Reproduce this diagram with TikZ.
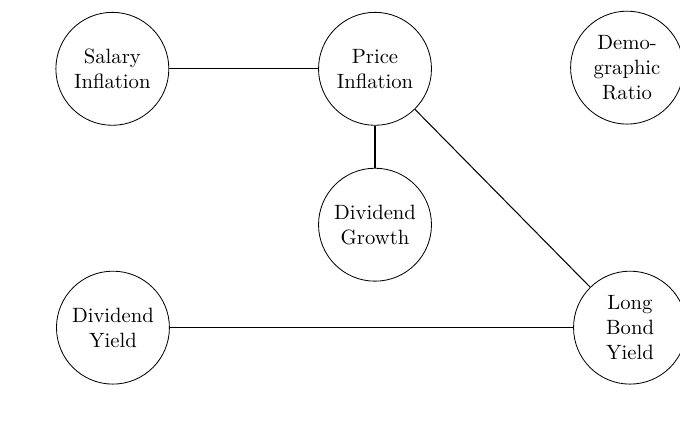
\documentclass[tikz,border=0pt]{standalone}
\usepackage{tikz}
\usetikzlibrary{positioning}

\begin{document}
\begin{tikzpicture}[
    factor/.style={draw, circle, minimum size=1.92cm, inner sep=1pt, align=center, font=\normalsize},
    link/.style={line width=0.5pt}
]
    \useasboundingbox (0,0) rectangle (11.56,7.46);

    % Top row
    \node[factor] (salary) at (1.91,6.29) {Salary\\Inflation};
    \node[factor] (price) at (6.375,6.29) {Price\\Inflation};
    \node[factor] (demo) at (10.66,6.31) {Demo-\\graphic\\Ratio};

    % Middle
    \node[factor] (growth) at (6.375,3.64) {Dividend\\Growth};

    % Bottom row
    \node[factor] (yield) at (1.92,1.89) {Dividend\\Yield};
    \node[factor] (bond) at (10.71,1.89) {Long\\Bond\\Yield};

    % Links
    \draw[link] (salary) -- (price);
    \draw[link] (price) -- (growth);
    \draw[link] (price) -- (bond);
    \draw[link] (yield) -- (bond);

\end{tikzpicture}
\end{document}
